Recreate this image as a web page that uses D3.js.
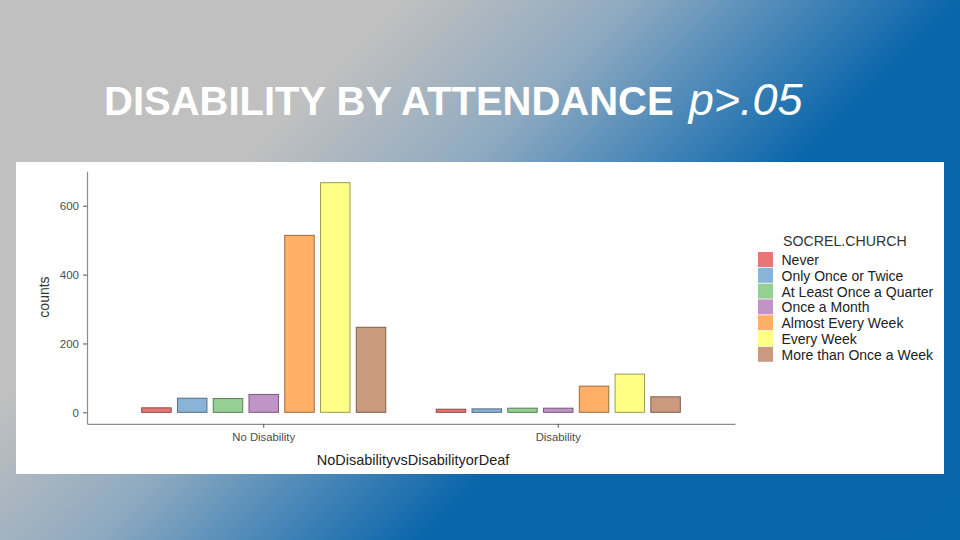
<!DOCTYPE html>
<html>
<head>
<meta charset="utf-8">
<script src="https://cdn.jsdelivr.net/npm/d3@7"></script>
<style>
  html, body { margin: 0; padding: 0; }
  body { width: 960px; height: 540px; overflow: hidden; }
  text { font-family: "Liberation Sans", Arial, sans-serif; }
</style>
</head>
<body>
<div id="vis"></div>
<script>
// chart values
var groups = ["No Disability", "Disability"];
var levels = ["Never", "Only Once or Twice", "At Least Once a Quarter", "Once a Month",
              "Almost Every Week", "Every Week", "More than Once a Week"];
var counts_no_disability = [13, 41, 40, 52, 514, 667, 247];
var counts_disability = [9, 10, 12, 12, 76, 111, 45];
var y_ticks = [0, 200, 400, 600];
var level_colors = ["#e97676", "#8ab3d8", "#96cf93", "#c194c8", "#ffb066", "#ffff85", "#ca9a7e"];

var opts = {
  "width": 960,
  "height": 540,
  "left": 87,
  "right": 735,
  "top": 171.2,
  "bottom": 423.8
};

var svg = d3.select("#vis")
  .append("svg")
  .attr("width", opts.width)
  .attr("height", opts.height);

// slide background
var grad = svg.append("defs").append("linearGradient")
  .attr("id", "bg")
  .attr("gradientUnits", "userSpaceOnUse")
  .attr("x1", 0).attr("y1", 0)
  .attr("x2", 750).attr("y2", 750);
[[0, "#c0c0c0"], [0.27, "#c0c0c0"], [0.42, "#8faac0"], [0.55, "#3f82b6"],
 [0.64, "#0a66aa"], [1, "#0866aa"]].forEach(function(s) {
  grad.append("stop").attr("offset", s[0]).attr("stop-color", s[1]);
});

svg.append("rect")
  .attr("width", opts.width)
  .attr("height", opts.height)
  .attr("fill", "url(#bg)");

// title
var title = svg.append("text")
  .attr("x", 104)
  .attr("y", 115)
  .attr("fill", "#ffffff")
  .style("font-size", "40px")
  .style("font-weight", "bold")
  .text("DISABILITY BY ATTENDANCE ");
title.append("tspan")
  .style("font-style", "italic")
  .style("font-weight", "normal")
  .style("font-size", "45px")
  .attr("dx", 4)
  .text("p>.05");

// white chart panel
svg.append("rect")
  .attr("x", 16)
  .attr("y", 162)
  .attr("width", 928)
  .attr("height", 312)
  .attr("fill", "#ffffff");

var rows = groups.map(function(g, i) {
  var vals = i === 0 ? counts_no_disability : counts_disability;
  return { "group": g, "values": levels.map(function(l, j) { return { "level": l, "value": vals[j] }; }) };
});

var max_val = d3.max(counts_no_disability.concat(counts_disability));
var pad = max_val * 0.05;

var x0 = d3.scaleBand()
  .domain(groups)
  .range([opts.left, opts.right])
  .paddingInner(0)
  .paddingOuter(0.1);

var half = x0.bandwidth() * 0.85 / 2;
var x1 = d3.scaleBand()
  .domain(levels)
  .range([-half, half])
  .paddingInner(0.176)
  .paddingOuter(0.088);

var y = d3.scaleLinear()
  .domain([-pad, max_val + pad])
  .range([opts.bottom, opts.top]);

var color = d3.scaleOrdinal().domain(levels).range(level_colors);

// bars
var g_groups = svg.selectAll(".grp")
  .data(rows)
  .enter()
  .append("g")
  .attr("class", "grp")
  .attr("transform", function(d) { return "translate(" + (x0(d.group) + x0.bandwidth() / 2) + ",0)"; });

g_groups.selectAll("rect")
  .data(function(d) { return d.values; })
  .enter()
  .append("rect")
  .attr("x", function(d) { return x1(d.level); })
  .attr("width", x1.bandwidth())
  .attr("y", function(d) { return y(d.value); })
  .attr("height", function(d) { return y(0) - y(d.value); })
  .attr("fill", function(d) { return color(d.level); })
  .attr("stroke", function(d) { return d3.color(color(d.level)).darker(1.4); })
  .attr("stroke-width", 1);

// axes
var y_axis = svg.append("g")
  .attr("transform", "translate(" + opts.left + ",0)")
  .call(d3.axisLeft(y).tickValues(y_ticks).tickSize(4).tickSizeOuter(0).tickPadding(4));

var x_axis = svg.append("g")
  .attr("transform", "translate(0," + opts.bottom + ")")
  .call(d3.axisBottom(x0).tickSize(4).tickSizeOuter(0).tickPadding(5));

[y_axis, x_axis].forEach(function(ax) {
  ax.select(".domain").attr("stroke", "#8c8c8c").attr("stroke-width", 1.2);
  ax.selectAll(".tick line").attr("stroke", "#555");
  ax.selectAll(".tick text")
    .attr("fill", "#4d4d4d")
    .style("font-family", "'Liberation Sans', Arial, sans-serif");
});
y_axis.selectAll(".tick text").style("font-size", "11.5px");
x_axis.selectAll(".tick text").style("font-size", "11.3px");

// axis titles
svg.append("text")
  .attr("transform", "translate(49,297) rotate(-90)")
  .attr("text-anchor", "middle")
  .attr("fill", "#333")
  .style("font-size", "14px")
  .text("counts");

svg.append("text")
  .attr("x", (opts.left + opts.right) / 2 + 2)
  .attr("y", 465)
  .attr("text-anchor", "middle")
  .attr("fill", "#222")
  .style("font-size", "14.5px")
  .text("NoDisabilityvsDisabilityorDeaf");

// legend
var legend = svg.append("g").attr("transform", "translate(758,252)");
legend.append("text")
  .attr("x", 25)
  .attr("y", -6)
  .attr("fill", "#333")
  .style("font-size", "14.2px")
  .text("SOCREL.CHURCH");

var key_h = 15.8;
var items = legend.selectAll(".key")
  .data(levels)
  .enter()
  .append("g")
  .attr("class", "key")
  .attr("transform", function(d, i) { return "translate(0," + (i * key_h) + ")"; });

items.append("rect")
  .attr("width", 15)
  .attr("height", key_h - 0.8)
  .attr("fill", function(d) { return color(d); });

items.append("text")
  .attr("x", 23.5)
  .attr("y", key_h / 2)
  .attr("dy", "0.36em")
  .attr("fill", "#222")
  .style("font-size", "14px")
  .text(function(d) { return d; });
</script>
</body>
</html>
